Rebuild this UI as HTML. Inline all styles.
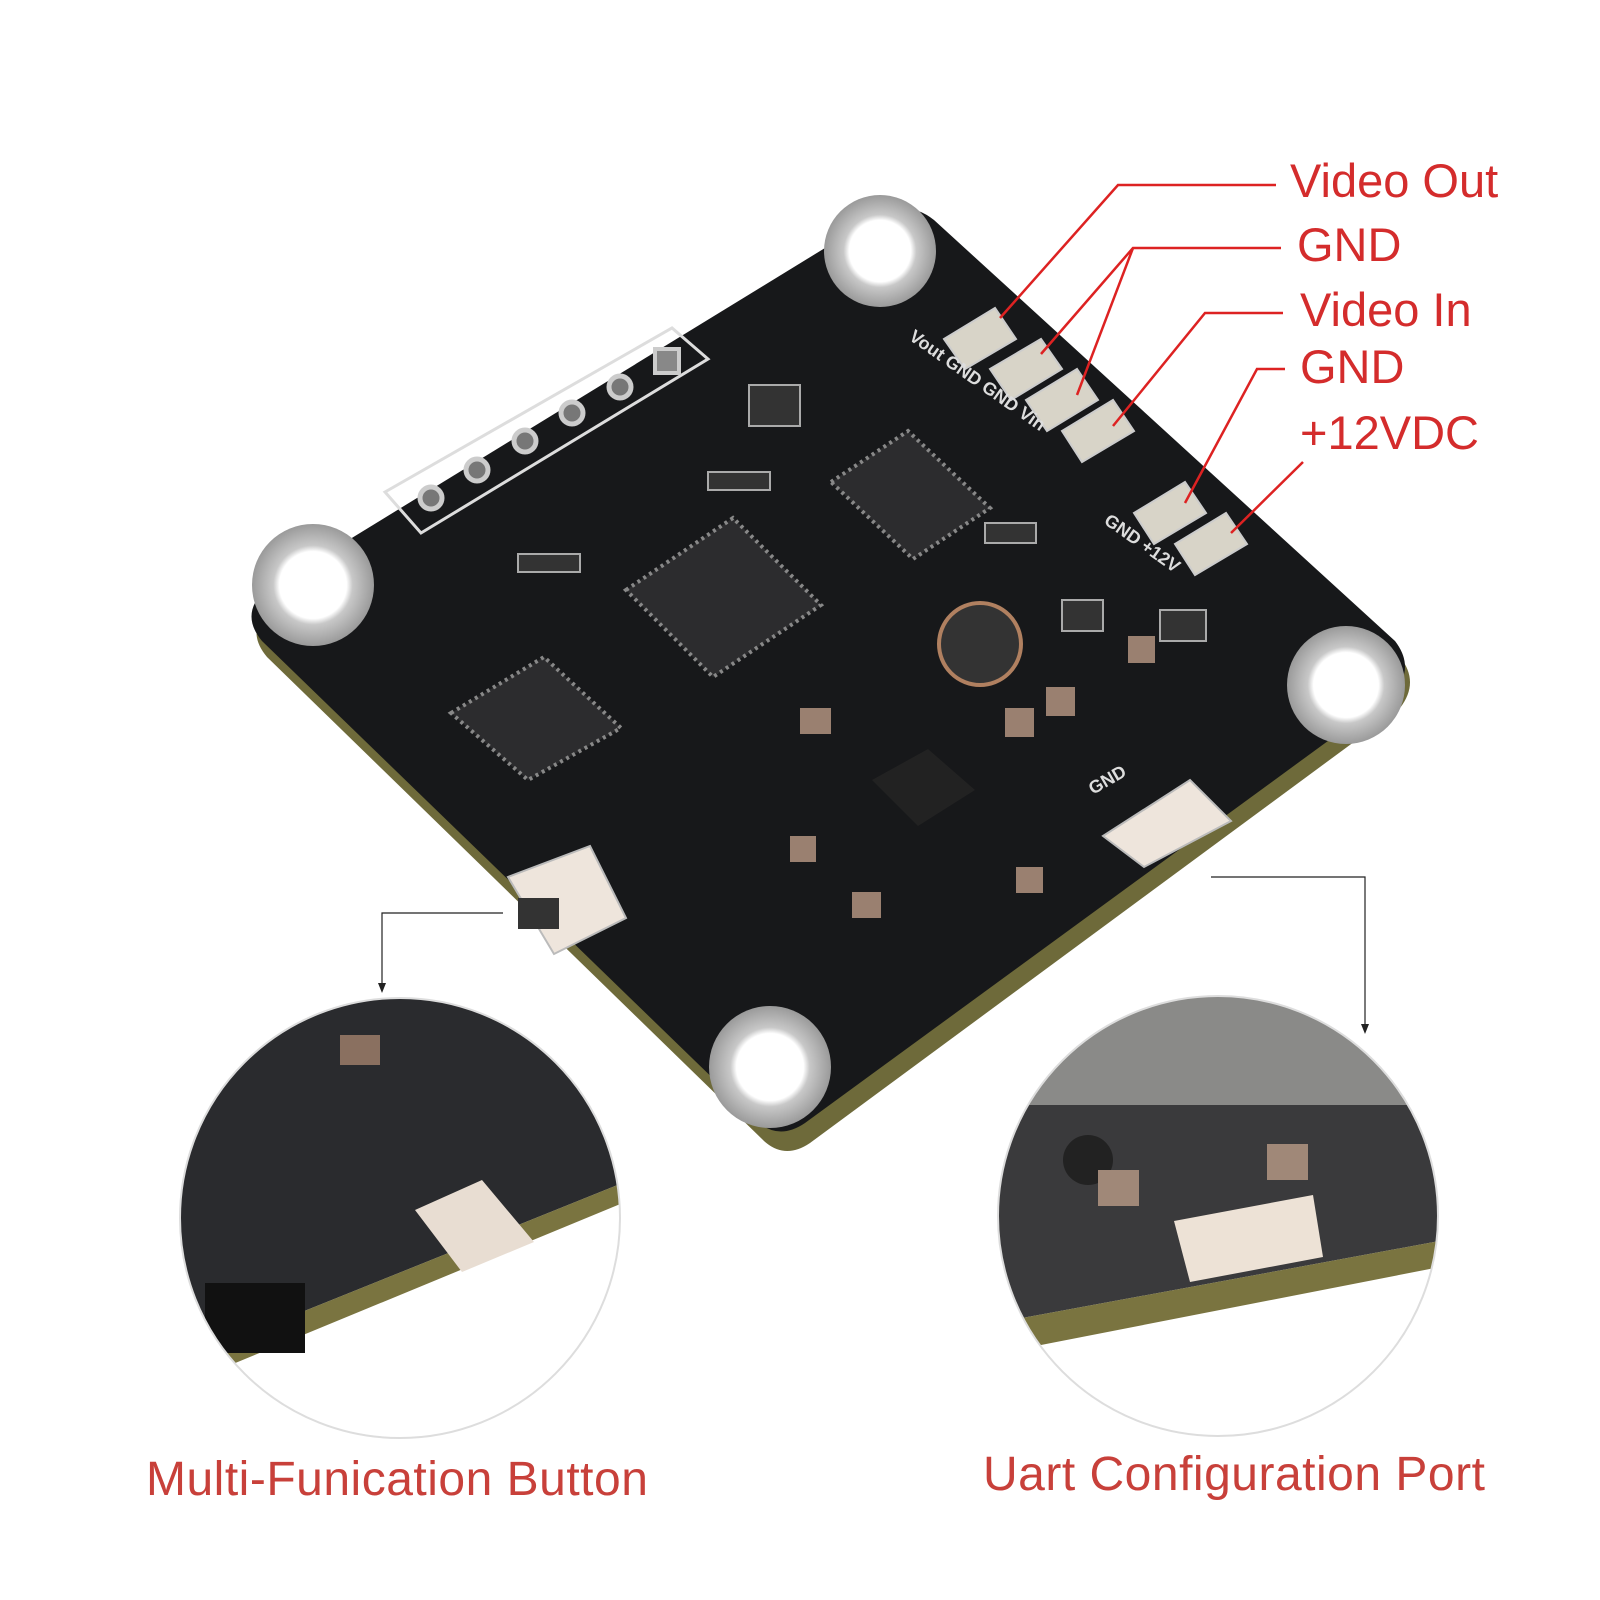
<!DOCTYPE html>
<html><head><meta charset="utf-8"><style>
html,body{margin:0;padding:0;background:#fff}
svg{display:block}
</style></head><body>
<svg width="1600" height="1600" viewBox="0 0 1600 1600" xmlns="http://www.w3.org/2000/svg">
<defs>
<radialGradient id="hole" cx="50%" cy="50%" r="50%"><stop offset="0.55" stop-color="#fff"/><stop offset="0.65" stop-color="#c8c8c8"/><stop offset="1" stop-color="#9a9a9a"/></radialGradient>
<clipPath id="cl"><circle cx="400" cy="1218" r="220"/></clipPath>
<clipPath id="cr"><circle cx="1218" cy="1216" r="220"/></clipPath>
</defs>
<rect width="1600" height="1600" fill="#fff"/>
<path d="M892,228 Q918,220 938,238 L1400,657 Q1420,682 1400,708 L810,1143 Q785,1160 764,1141 L267,657 Q246,632 267,610 Z" fill="#6e6a3a"/>
<path d="M887,210 Q913,203 934,220 L1395,641 Q1415,667 1395,692 L805,1123 Q780,1140 759,1123 L262,641 Q241,616 262,593 Z" fill="#17181a"/>
<circle cx="880" cy="251" r="56" fill="url(#hole)"/>
<circle cx="1346" cy="685" r="59" fill="url(#hole)"/>
<circle cx="770" cy="1067" r="61" fill="url(#hole)"/>
<circle cx="313" cy="585" r="61" fill="url(#hole)"/>
<polygon points="385,492 672,328 708,359 421,533" fill="none" stroke="#ddd" stroke-width="3"/>
<g fill="#777" stroke="#ccc" stroke-width="5">
<circle cx="431" cy="498" r="11"/><circle cx="477" cy="470" r="11"/><circle cx="525" cy="441" r="11"/><circle cx="572" cy="413" r="11"/><circle cx="620" cy="387" r="11"/>
</g>
<rect x="655" y="349" width="24" height="24" fill="#888" stroke="#ccc" stroke-width="4"/>
<polygon points="626,590 733,518 821,605 713,677" fill="#2c2c2e" stroke="#888" stroke-width="4" stroke-dasharray="3 4"/>
<polygon points="451,713 544,657 621,728 528,780" fill="#2c2c2e" stroke="#888" stroke-width="4" stroke-dasharray="3 4"/>
<polygon points="831,482 908,431 990,508 913,559" fill="#2c2c2e" stroke="#888" stroke-width="4" stroke-dasharray="3 4"/>
<polygon points="872,780 928,749 975,790 918,826" fill="#222"/>
<circle cx="980" cy="644" r="41" fill="#333" stroke="#b08060" stroke-width="4"/>
<g fill="#9a8070">
<rect x="800" y="708" width="31" height="26"/><rect x="1005" y="708" width="29" height="29"/><rect x="1046" y="687" width="29" height="29"/><rect x="1128" y="636" width="27" height="27"/><rect x="852" y="892" width="29" height="26"/><rect x="1016" y="867" width="27" height="26"/><rect x="790" y="836" width="26" height="26"/>
</g>
<g fill="#333" stroke="#aaa" stroke-width="2">
<rect x="749" y="385" width="51" height="41"/><rect x="1160" y="610" width="46" height="31"/><rect x="1062" y="600" width="41" height="31"/><rect x="518" y="554" width="62" height="18"/><rect x="708" y="472" width="62" height="18"/><rect x="985" y="523" width="51" height="20"/>
</g>
<g fill="#d8d4c8" stroke="#ccc" stroke-width="2">
<polygon points="944,339 995,308 1016,339 965,369"/><polygon points="990,369 1041,339 1062,369 1011,400"/><polygon points="1026,400 1077,369 1098,400 1047,431"/><polygon points="1062,431 1113,400 1134,431 1082,462"/>
<polygon points="1134,513 1185,482 1206,513 1154,544"/><polygon points="1175,544 1226,513 1247,544 1195,575"/>
</g>
<g font-family="Liberation Sans,sans-serif" font-size="18" font-weight="bold" fill="#ddd">
<text x="908" y="339" transform="rotate(35 908 339)">Vout GND GND Vin</text>
<text x="1103" y="523" transform="rotate(35 1103 523)">GND +12V</text>
<text x="1093" y="795" transform="rotate(-30 1093 795)">GND</text>
</g>
<polygon points="1103,836 1190,780 1231,821 1144,867" fill="#eee5dc" stroke="#bbb" stroke-width="2"/>
<polygon points="508,877 590,846 626,918 554,954" fill="#eee5dc" stroke="#bbb" stroke-width="2"/>
<rect x="518" y="898" width="41" height="31" fill="#333"/>
<g stroke="#d22" stroke-width="2.5" fill="none">
<polyline points="1276,185 1118,185 1000,318"/>
<polyline points="1281,248 1133,248 1041,354"/>
<polyline points="1133,248 1077,395"/>
<polyline points="1283,313 1205,313 1113,426"/>
<polyline points="1285,369 1257,369 1185,503"/>
<polyline points="1303,462 1231,533"/>
</g>
<g font-family="Liberation Sans,sans-serif" font-size="47" fill="#d42c2c">
<text x="1290" y="197">Video Out</text>
<text x="1297" y="261">GND</text>
<text x="1300" y="326">Video In</text>
<text x="1300" y="383">GND</text>
<text x="1300" y="449">+12VDC</text>
</g>
<g stroke="#222" stroke-width="1.2" fill="none">
<polyline points="503,913 382,913 382,990"/>
<polyline points="1211,877 1365,877 1365,1030"/>
</g>
<polygon points="378,983 386,983 382,993" fill="#222"/>
<polygon points="1361,1024 1369,1024 1365,1034" fill="#222"/>
<g clip-path="url(#cl)">
<rect x="170" y="990" width="460" height="460" fill="#2a2b2e"/>
<polygon points="170,1365 630,1180 630,1450 170,1450" fill="#fff"/>
<polygon points="170,1365 630,1180 630,1200 170,1390" fill="#7a7440"/>
<polygon points="415,1210 482,1180 534,1242 462,1272" fill="#e8ddd2"/>
<rect x="340" y="1035" width="40" height="30" fill="#8a7060"/>
<rect x="205" y="1283" width="100" height="70" fill="#111"/>
</g>
<circle cx="400" cy="1218" r="220" fill="none" stroke="#ddd" stroke-width="2"/>
<g clip-path="url(#cr)">
<rect x="995" y="995" width="450" height="450" fill="#3a3a3c"/>
<rect x="995" y="995" width="450" height="110" fill="#8a8a88"/>
<polygon points="995,1323 1445,1240 1445,1445 995,1445" fill="#fff"/>
<polygon points="995,1323 1445,1240 1445,1266 995,1354" fill="#7a7440"/>
<polygon points="1174,1221 1313,1195 1323,1257 1190,1282" fill="#ede2d6"/>
<circle cx="1088" cy="1160" r="25" fill="#222"/>
<rect x="1098" y="1170" width="41" height="36" fill="#a08878"/><rect x="1267" y="1144" width="41" height="36" fill="#a08878"/>
</g>
<circle cx="1218" cy="1216" r="220" fill="none" stroke="#ddd" stroke-width="2"/>
<g font-family="Liberation Sans,sans-serif" font-size="48" fill="#c8403a" letter-spacing="0.5">
<text x="146" y="1495">Multi-Funication Button</text>
<text x="983" y="1490">Uart Configuration Port</text>
</g>
</svg>
</body></html>
